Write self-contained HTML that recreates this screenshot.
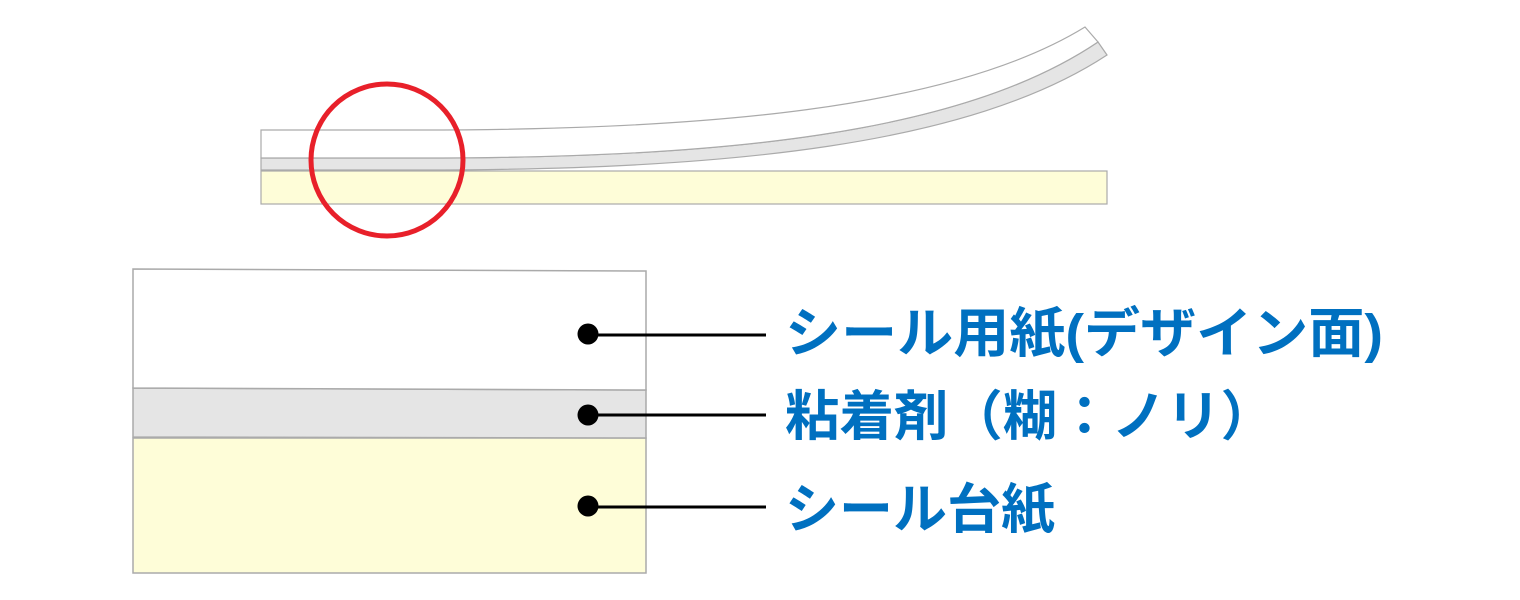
<!DOCTYPE html>
<html><head><meta charset="utf-8"><style>html,body{margin:0;padding:0;background:#fff;width:1520px;height:600px;overflow:hidden}</style></head>
<body>
<svg width="1520" height="600" viewBox="0 0 1520 600" xmlns="http://www.w3.org/2000/svg">
<rect x="261" y="171" width="846" height="33" fill="#fefdd8" stroke="#aaa" stroke-width="1.2"/>
<path d="M261,158 L420,158 C720,158 960,135 1098,42 L1107,55 C970,145 730,170 420,170 L261,170 Z" fill="#e5e5e5" stroke="#aaa" stroke-width="1.2"/>
<path d="M261,130 L420,130 C700,130 950,110 1085,27 L1098,42 C960,135 720,158 420,158 L261,158 Z" fill="#fff" stroke="#aaa" stroke-width="1.2"/>
<circle cx="387" cy="160" r="76" fill="none" stroke="#e8202a" stroke-width="5"/>
<rect x="133" y="438" width="513" height="135" fill="#fefdd8" stroke="#aaa" stroke-width="1.5"/>
<path d="M133,388 L646,390 L646,438 L133,437 Z" fill="#e5e5e5" stroke="#aaa" stroke-width="1.5"/>
<path d="M133,269 L646,271 L646,390 L133,388 Z" fill="#fff" stroke="#aaa" stroke-width="1.5"/>
<g fill="#000" stroke="#000" stroke-width="3">
<circle cx="588" cy="334" r="10.5" stroke="none"/><line x1="588" y1="335" x2="766" y2="335"/>
<circle cx="588" cy="415" r="10.5" stroke="none"/><line x1="588" y1="415" x2="766" y2="415"/>
<circle cx="588" cy="506" r="10.5" stroke="none"/><line x1="588" y1="507" x2="766" y2="507"/>
</g>
<g fill="#0070c0" font-family="'Liberation Sans','Noto Sans CJK JP',sans-serif" font-weight="bold" font-size="54">
<text x="785" y="352" textLength="598" lengthAdjust="spacingAndGlyphs">シール用紙(デザイン面)</text>
<text x="785" y="435" textLength="490" lengthAdjust="spacingAndGlyphs">粘着剤（糊：ノリ）</text>
<text x="785" y="528" textLength="270" lengthAdjust="spacingAndGlyphs">シール台紙</text>
</g>
</svg>
</body></html>
